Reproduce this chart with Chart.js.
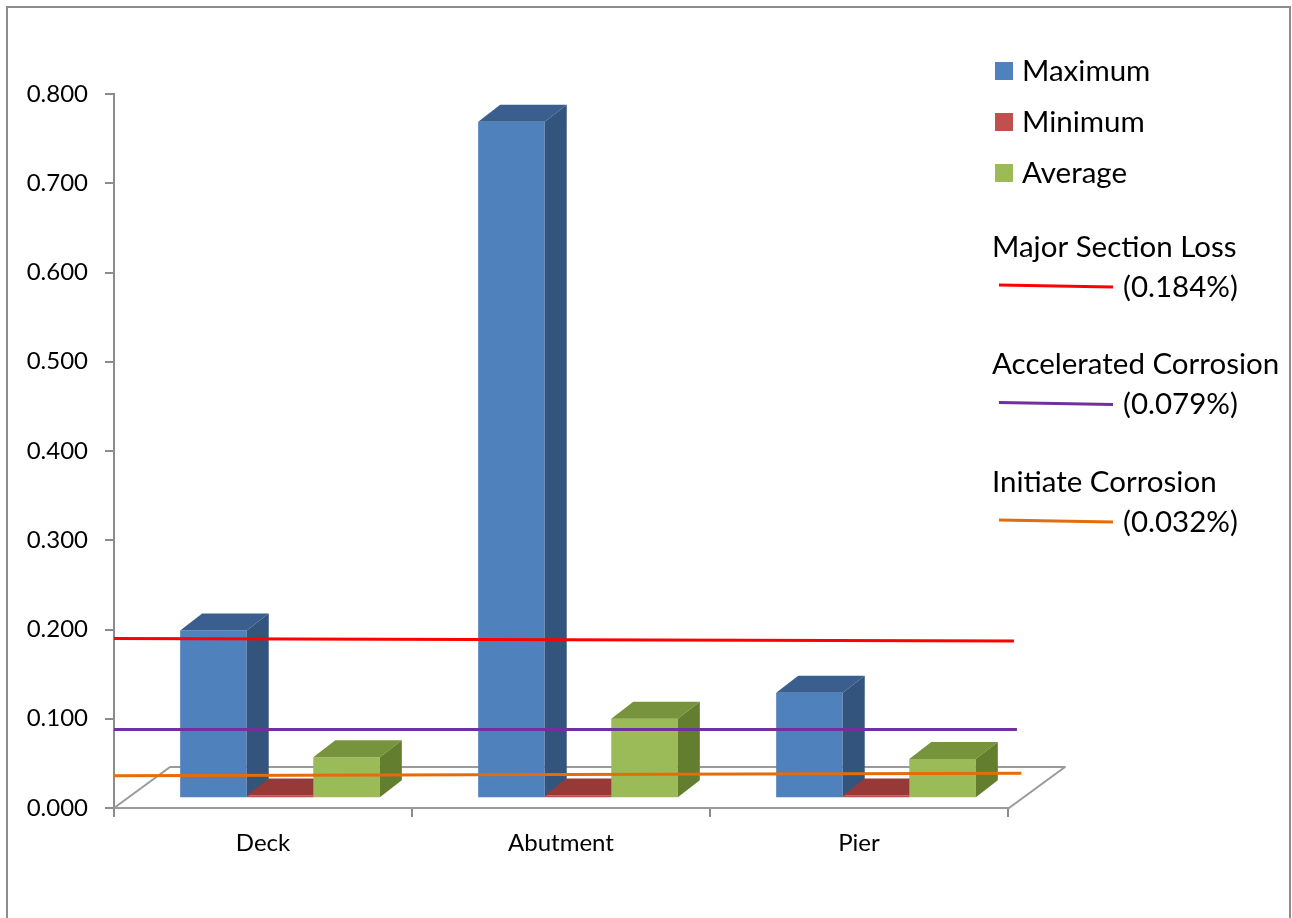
<!DOCTYPE html>
<html>
<head>
<meta charset="utf-8">
<title>Chloride content by component</title>
<script src="https://cdn.jsdelivr.net/npm/chart.js@4.4.1/dist/chart.umd.min.js"></script>
<style>
  body { margin: 0; background: #fff; }
  #marco { position: relative; width: 1292px; height: 918px; }
  #marco canvas { position: absolute; left: 0; top: 0; }
</style>
</head>
<body>
<div id="marco">
  <canvas id="grafico" width="1292" height="918"></canvas>
  <canvas id="limites" width="1292" height="918"></canvas>
</div>
<script>
// Categorias y series (valores leidos contra el eje vertical)
const categorias = ['Deck', 'Abutment', 'Pier'];
const nombresSeries = ['Maximum', 'Minimum', 'Average'];
const maximos = [0.199, 0.769, 0.129];
const minimos = [0.014, 0.014, 0.014];
const promedios = [0.057, 0.100, 0.055];
const basePiso = 0.012; // nivel donde apoyan las columnas 3D

// Lineas de referencia (dibujadas a mano en el original)
const nombresLimites = ['Major Section Loss', 'Accelerated Corrosion', 'Initiate Corrosion'];
const etiquetasLimites = ['(0.184%)', '(0.079%)', '(0.032%)'];
const limiteInicio = [0.190, 0.088, 0.036];
const limiteFin = [0.187, 0.088, 0.039];
const limiteFinX = [3.02, 3.03, 3.045];

const ejeMin = 0;
const ejeMax = 0.8;
const ejePaso = 0.1;

// Colores
const coloresFrente = ['#4F81BD', '#C0504D', '#9BBB59'];
const coloresArriba = ['#3A5F8F', '#973936', '#77933C'];
const coloresLado = ['#32547D', '#7E302D', '#647E2F'];
const coloresLimites = ['#FF0000', '#7030A0', '#E46C0A'];
const gris = '#8c8c8c';

const prof = {dx: 22, dy: -17};   // profundidad de las columnas
const piso = {dx: 56, dy: -41};   // profundidad del piso
const corrimiento = 17;           // las columnas 3D quedan algo a la derecha
const margen = { top: 94, right: 284, left: 114, bottom: 110 };

Chart.defaults.font.family = 'Lato';
Chart.defaults.color = '#000';

let poligono = (ctx, pts, relleno, trazo) => {
  ctx.beginPath();
  ctx.moveTo(pts[0][0], pts[0][1]);
  for (let k = 1; k < pts.length; k++) ctx.lineTo(pts[k][0], pts[k][1]);
  ctx.closePath();
  if (relleno) { ctx.fillStyle = relleno; ctx.fill(); }
  if (trazo) { ctx.strokeStyle = trazo; ctx.lineWidth = 2; ctx.stroke(); }
};

const barras3D = {
  id: 'barras3D',
  beforeDraw(chart) {
    // marco exterior
    const ctx = chart.ctx;
    ctx.save();
    ctx.strokeStyle = gris;
    ctx.lineWidth = 2;
    ctx.strokeRect(7, 7, 1283, 1000);
    ctx.restore();
  },
  beforeDatasetsDraw(chart) {
    const ctx = chart.ctx;
    const xs = chart.scales.x;
    const y0 = chart.scales.y.getPixelForValue(0);
    const x0 = xs.left, x1 = xs.right + 1;
    // piso del grafico
    ctx.save();
    ctx.lineJoin = 'round';
    poligono(ctx, [[x0, y0], [x1, y0], [x1 + piso.dx, y0 + piso.dy], [x0 + piso.dx, y0 + piso.dy]], null, '#9a9a9a');
    ctx.restore();

    // columnas: de izquierda a derecha para que la de la derecha tape a la otra
    chart.data.datasets.forEach((ds, i) => {
      const meta = chart.getDatasetMeta(i);
      ctx.save();
      ctx.translate(corrimiento, 0);
      meta.controller.draw();
      meta.data.forEach(barra => {
        const {x, y, base, width} = barra.getProps(['x', 'y', 'base', 'width'], true);
        const l = x - width / 2, r = x + width / 2;
        // cara superior
        poligono(ctx, [[l, y], [r, y], [r + prof.dx, y + prof.dy], [l + prof.dx, y + prof.dy]], coloresArriba[i]);
        // cara lateral
        poligono(ctx, [[r, y], [r + prof.dx, y + prof.dy], [r + prof.dx, base + prof.dy], [r, base]], coloresLado[i]);
      });
      ctx.restore();
    });
  },
  beforeDatasetDraw() {
    // las columnas ya se dibujaron arriba
    return false;
  },
  afterDraw(chart) {
    // leyenda a la derecha
    const ctx = chart.ctx;
    ctx.save();
    ctx.font = '29.5px Lato';
    ctx.textBaseline = 'middle';
    ctx.textAlign = 'left';
    nombresSeries.forEach((nombre, i) => {
      const yc = 71 + 51 * i;
      ctx.fillStyle = coloresFrente[i];
      ctx.fillRect(995, yc - 9, 18, 18);
      ctx.fillStyle = '#000';
      ctx.fillText(nombre, 1022, yc);
    });
    nombresLimites.forEach((nombre, i) => {
      const yt = 247 + 117.5 * i;
      ctx.fillStyle = '#000';
      ctx.fillText(nombre, 992, yt);
      ctx.beginPath();
      ctx.moveTo(999, yt + 38);
      ctx.lineTo(1113, yt + 40);
      ctx.strokeStyle = coloresLimites[i];
      ctx.lineWidth = 3;
      ctx.stroke();
      ctx.fillText(etiquetasLimites[i], 1123, yt + 40);
    });
    ctx.restore();
  }
};

// Columnas (flotantes desde el piso)
let seriesBarras = [maximos, minimos, promedios].map((vals, i) => ({
  label: nombresSeries[i],
  data: vals.map(v => [basePiso, v]),
  backgroundColor: coloresFrente[i],
  borderWidth: 0,
  categoryPercentage: 0.67,
  barPercentage: 1.0
}));

let config = {
  type: 'bar',
  data: {
    labels: categorias,
    datasets: seriesBarras
  },
  options: {
    responsive: false,
    animation: false,
    layout: { padding: { top: margen.top, right: margen.right, left: 0, bottom: 0 } },
    plugins: {
      legend: { display: false },
      tooltip: { enabled: false }
    },
    scales: {
      x: {
        type: 'category',
        offset: true,
        grid: { offset: true, drawOnChartArea: false, tickLength: 9, color: gris, lineWidth: 2 },
        border: { color: gris, width: 2 },
        ticks: { font: { size: 24 }, padding: 12 },
        afterFit: s => { s.height = margen.bottom; }
      },
      y: {
        min: ejeMin,
        max: ejeMax,
        grid: { drawOnChartArea: false, tickLength: 9, color: gris, lineWidth: 2 },
        border: { color: gris, width: 2 },
        ticks: { stepSize: ejePaso, padding: 17, font: { size: 24 }, callback: v => v.toFixed(3) },
        afterFit: s => { s.width = margen.left; }
      }
    }
  },
  plugins: [barras3D]
};

let grafico = new Chart(document.getElementById('grafico'), config);

// Lineas de referencia en un lienzo superpuesto con la misma area de grafico
let seriesLimites = nombresLimites.map((nombre, i) => ({
  label: nombre,
  data: [{x: 0, y: limiteInicio[i]}, {x: limiteFinX[i], y: limiteFin[i]}],
  borderColor: coloresLimites[i],
  borderWidth: 3,
  pointRadius: 0,
  fill: false,
  clip: false
}));

let configLimites = {
  type: 'line',
  data: { datasets: seriesLimites },
  options: {
    responsive: false,
    animation: false,
    layout: { padding: margen },
    plugins: {
      legend: { display: false },
      tooltip: { enabled: false }
    },
    scales: {
      x: { type: 'linear', display: false, min: 0, max: 3 },
      y: { display: false, min: ejeMin, max: ejeMax }
    }
  }
};

let graficoLimites = new Chart(document.getElementById('limites'), configLimites);
</script>
</body>
</html>
